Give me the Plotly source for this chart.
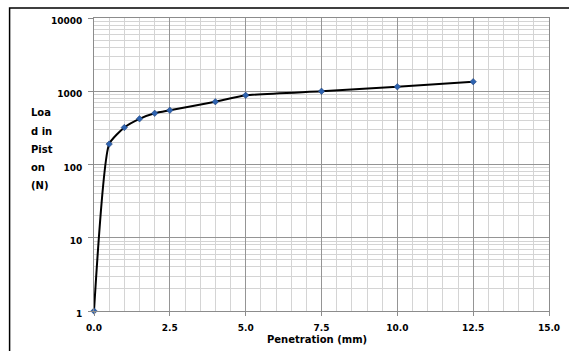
import plotly.graph_objects as go

# Penetration test: load on piston vs penetration
penetration_mm = [0.0, 0.5, 1.0, 1.5, 2.0, 2.5, 4.0, 5.0, 7.5, 10.0, 12.5]
load_n = [1, 190, 320, 420, 500, 550, 720, 880, 1000, 1150, 1350]

x_ticks = [0, 2.5, 5, 7.5, 10, 12.5, 15]
y_ticks = [1, 10, 100, 1000, 10000]
y_tick_text = ["1", "10", "100", "1000", "10000"]
y_title_lines = ["Loa", "d in", "Pist", "on", "(N)"]
x_title = "Penetration (mm)"

W, H = 569, 351
M_L, M_R, M_T, M_B = 93.5, 20, 18, 39.5
PW, PH = W - M_L - M_R, H - M_T - M_B

tick_font = dict(family="DejaVu Sans", size=9, color="black", weight="bold")
title_font = dict(family="DejaVu Sans", size=10, color="black", weight="bold")

fig = go.Figure()
fig.add_trace(go.Scatter(
    x=penetration_mm, y=load_n,
    mode="lines+markers",
    line=dict(color="black", width=2, shape="spline", smoothing=0.5),
    marker=dict(symbol="diamond", size=5, color="#2e63b0",
                line=dict(color="#1a3a70", width=0.5)),
    cliponaxis=False,
    showlegend=False,
))

fig.update_layout(
    width=W, height=H,
    margin=dict(l=M_L, r=M_R, t=M_T, b=M_B, autoexpand=False),
    paper_bgcolor="white", plot_bgcolor="white",
    xaxis=dict(
        range=[0, 15], tickvals=x_ticks, tickformat=".1f",
        showgrid=True, gridcolor="#959595", gridwidth=1,
        minor=dict(dtick=0.5, showgrid=True, gridcolor="#d4d4d4", gridwidth=1),
        showline=True, linecolor="#8c8c8c", linewidth=1, mirror=True,
        ticks="outside", ticklen=4, tickcolor="#8c8c8c",
        tickfont=tick_font, ticklabelstandoff=4, zeroline=False,
        automargin=False,
    ),
    yaxis=dict(
        type="log", range=[0, 4],
        tickvals=y_ticks, ticktext=y_tick_text,
        showgrid=True, gridcolor="#959595", gridwidth=1,
        minor=dict(dtick="D1", showgrid=True, gridcolor="#d4d4d4", gridwidth=1),
        showline=True, linecolor="#8c8c8c", linewidth=1, mirror=True,
        ticks="outside", ticklen=5, tickcolor="#8c8c8c",
        tickfont=tick_font, ticklabelstandoff=4, ticklabelshift=3,
        zeroline=False, automargin=False,
    ),
)

# Horizontal-axis title
fig.add_annotation(
    text=x_title, xref="paper", yref="paper",
    x=(317 - M_L) / PW, xanchor="center",
    y=(H - M_B - 340) / PH, yanchor="middle",
    showarrow=False, font=title_font,
)

# Wrapped vertical-axis title, one annotation per line
for i, line in enumerate(y_title_lines):
    fig.add_annotation(
        text=line, xref="paper", yref="paper",
        x=-(M_L - 28) / PW, xanchor="left",
        y=1 + (M_T - (113 + 18.3 * i)) / PH, yanchor="middle",
        showarrow=False, font=title_font,
    )

# Chart frame (extends past the right and bottom page edges)
fig.add_shape(type="rect", xref="paper", yref="paper",
              x0=-(M_L - 9) / PW, x1=1 + (M_R + 30) / PW,
              y0=-(M_B + 30) / PH, y1=1 + (M_T - 8) / PH,
              line=dict(color="black", width=1.5), layer="below")

fig.write_html("out.html")
